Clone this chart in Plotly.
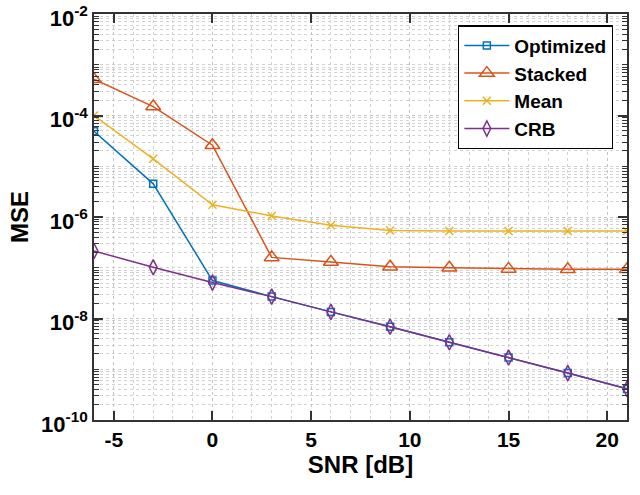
import plotly.graph_objects as go

snr = [-6, -3, 0, 3, 6, 9, 12, 15, 18, 21]
optimized = [4.9e-5, 4.5e-6, 5.6e-8, 2.7e-8, 1.35e-8, 6.9e-9, 3.4e-9, 1.7e-9, 8.4e-10, 4.1e-10]
stacked = [5.2e-4, 1.5e-4, 2.6e-5, 1.6e-7, 1.3e-7, 1.05e-7, 1.0e-7, 9.5e-8, 9.3e-8, 9.3e-8]
mean = [1.0e-4, 1.4e-5, 1.74e-6, 1.05e-6, 6.9e-7, 5.4e-7, 5.3e-7, 5.3e-7, 5.3e-7, 5.3e-7]
crb = [2.14e-7, 1.02e-7, 5.1e-8, 2.7e-8, 1.35e-8, 6.9e-9, 3.4e-9, 1.7e-9, 8.4e-10, 4.1e-10]

series_names = ["Optimized", "Stacked", "Mean", "CRB"]
colors = ["#0072BD", "#D95319", "#EDB120", "#7E2F8E"]
symbols = ["square-open", "triangle-up-open", "x-thin-open", "diamond-tall-open"]
sizes = [7, 13, 8, 11]

y_major_exp = [-10, -8, -6, -4, -2]
y_major_vals = [10.0 ** e for e in y_major_exp]
y_major_text = ["10<sup>%d</sup>" % e for e in y_major_exp]
y_minor_vals = [m * 10.0 ** e for e in range(-10, -2) for m in range(1, 10)] + [1e-2]
x_major = [-5, 0, 5, 10, 15, 20]
x_minor = list(range(-6, 22))

fig = go.Figure()
for name, vals, c, s, sz in zip(series_names, [optimized, stacked, mean, crb], colors, symbols, sizes):
    fig.add_trace(go.Scatter(
        x=snr, y=vals, name=name, mode="lines+markers",
        line=dict(color=c, width=1.5),
        marker=dict(symbol=s, size=sz, color=c, line=dict(color=c, width=1.5)),
    ))

font_family = "Liberation Sans, Arial, sans-serif"
fig.update_layout(
    width=640, height=495,
    margin=dict(l=94, r=13, t=14, b=75),
    paper_bgcolor="white", plot_bgcolor="white",
    font=dict(family=font_family, color="black"),
    showlegend=True,
    legend=dict(
        x=0.974, y=0.972, xanchor="right", yanchor="top",
        bgcolor="white", bordercolor="black", borderwidth=1.2,
        font=dict(size=19, family=font_family, color="black", weight="bold"),
        tracegroupgap=0, itemwidth=45,
    ),
    xaxis=dict(
        range=[-6, 21], tickvals=x_major, ticktext=[str(v) for v in x_major],
        ticks="inside", ticklen=9, tickwidth=1.5, tickcolor="#333",
        showline=True, linecolor="#333", linewidth=1.5, mirror="ticks",
        showgrid=True, gridcolor="#c4c4c4", griddash="dot", gridwidth=1,
        zeroline=False, automargin=False, ticklabeloverflow="allow",
        tickfont=dict(size=21, family=font_family, weight="bold"),
        title=dict(text="SNR [dB]", font=dict(size=24, family=font_family, weight="bold"), standoff=6),
        minor=dict(tickvals=x_minor, showgrid=True, gridcolor="#d2d2d2", griddash="dot", ticks=""),
    ),
    yaxis=dict(
        type="log", range=[-10, -2], tickvals=y_major_vals, ticktext=y_major_text,
        ticks="inside", ticklen=9, tickwidth=1.5, tickcolor="#333",
        showline=True, linecolor="#333", linewidth=1.5, mirror="ticks",
        showgrid=True, gridcolor="#c4c4c4", griddash="dot", gridwidth=1,
        zeroline=False, automargin=False, ticklabeloverflow="allow", ticklabelshift=4,
        tickfont=dict(size=22, family=font_family, weight="bold"),
        title=dict(text="MSE", font=dict(size=24, family=font_family, weight="bold"), standoff=6),
        minor=dict(tickvals=y_minor_vals, showgrid=True, gridcolor="#d2d2d2", griddash="dot",
                   ticks="inside", ticklen=5, tickwidth=1.2, tickcolor="#333"),
    ),
)

fig.write_html("out.html", config={"displayModeBar": False},
               post_script="document.body.style.margin='0';")
